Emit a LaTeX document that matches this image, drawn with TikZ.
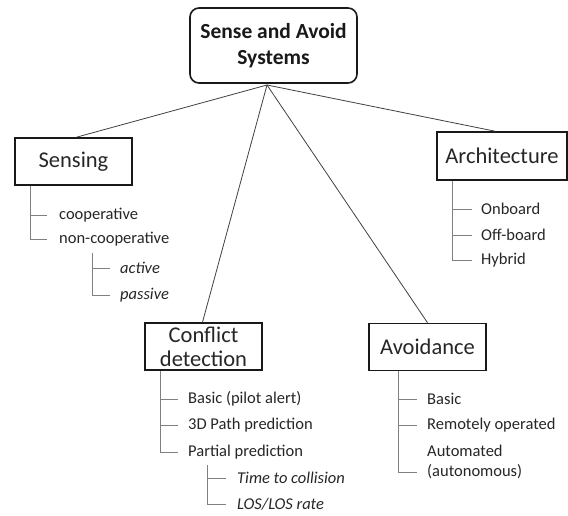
\documentclass[tikz,border=0pt]{standalone}
\usepackage{fontspec}
\setmainfont{Carlito}
\begin{document}
\begin{tikzpicture}[x=1pt,y=-1pt,
  box/.style={draw=black!90, line width=1.6pt, inner sep=0pt, minimum width=117pt, minimum height=47pt, align=center, text=black!85, font=\fontsize{22.5}{24}\selectfont},
  rootbox/.style={draw=black!90, line width=1.6pt, rounded corners=9pt, inner sep=0pt, minimum width=167pt, minimum height=75pt, align=center, text=black!90, font=\fontsize{21.5}{26}\selectfont\bfseries},
  item/.style={anchor=west, inner sep=0pt, text=black!85, font=\fontsize{16.5}{20}\selectfont},
  sub/.style={item, font=\fontsize{16.5}{20}\selectfont\itshape},
  link/.style={draw=black!75, line width=0.8pt},
  tree/.style={draw=black!50, line width=0.9pt}]
\useasboundingbox (0,0) rectangle (568,516);

\node[rootbox] (root) at (273.5,45.5) {Sense and Avoid\\Systems};
\coordinate (apex) at (267,85);

\node[box] (sens) at (73.5,161.5) {Sensing};
\node[box] (conf) at (203.5,346.5) {Conflict\\detection};
\node[box] (avoid) at (427.5,347) {Avoidance};
\node[box, minimum width=130pt, minimum height=48pt] (arch) at (502,156) {Architecture};

\draw[link] (apex) -- ([xshift=3pt]sens.north);
\draw[link] (apex) -- ([xshift=-1pt]conf.north);
\draw[link] (apex) -- (avoid.north);
\draw[link] (apex) -- ([xshift=-7pt]arch.north);

% Sensing
\node[item] (coop) at (59,215) {cooperative};
\node[item] (ncoop) at (59,239) {non-cooperative};
\node[sub] (act) at (120,268) {active};
\node[sub] (pas) at (120,295) {passive};
\coordinate (s0) at (sens.south -| 30,0);
\draw[tree] (s0) |- ([xshift=-12pt]coop.west);
\draw[tree] (s0) |- ([xshift=-12pt]ncoop.west);
\coordinate (s1) at (92,253);
\draw[tree] (s1) |- ([xshift=-10pt]act.west);
\draw[tree] (s1) |- ([xshift=-10pt]pas.west);

% Conflict detection
\node[item] (c1) at (188,399) {Basic (pilot alert)};
\node[item] (c2) at (188,425) {3D Path prediction};
\node[item] (c3) at (188,452) {Partial prediction};
\node[sub] (c4) at (237,478) {Time to collision};
\node[sub] (c5) at (237,504) {LOS/LOS rate};
\coordinate (c0) at (conf.south -| 160,0);
\draw[tree] (c0) |- ([xshift=-10pt]c1.west);
\draw[tree] (c0) |- ([xshift=-10pt]c2.west);
\draw[tree] (c0) |- ([xshift=-10pt]c3.west);
\coordinate (cs) at (207,465);
\draw[tree] (cs) |- ([xshift=-11pt]c4.west);
\draw[tree] (cs) |- ([xshift=-11pt]c5.west);

% Avoidance
\node[item] (a1) at (427,399) {Basic};
\node[item] (a2) at (427,425) {Remotely operated};
\node[item, align=left] (a3) at (427,462) {Automated\\(autonomous)};
\coordinate (a0) at (avoid.south -| 398,0);
\draw[tree] (a0) |- ([xshift=-10pt]a1.west);
\draw[tree] (a0) |- ([xshift=-10pt]a2.west);
\draw[tree] (a0) |- ([xshift=-10pt,yshift=-10pt]a3.west);

% Architecture
\node[item] (r1) at (481,209) {Onboard};
\node[item] (r2) at (481,235) {Off-board};
\node[item] (r3) at (481,260) {Hybrid};
\coordinate (r0) at (arch.south -| 452,0);
\draw[tree] (r0) |- ([xshift=-9pt]r1.west);
\draw[tree] (r0) |- ([xshift=-9pt]r2.west);
\draw[tree] (r0) |- ([xshift=-9pt]r3.west);
\end{tikzpicture}
\end{document}
